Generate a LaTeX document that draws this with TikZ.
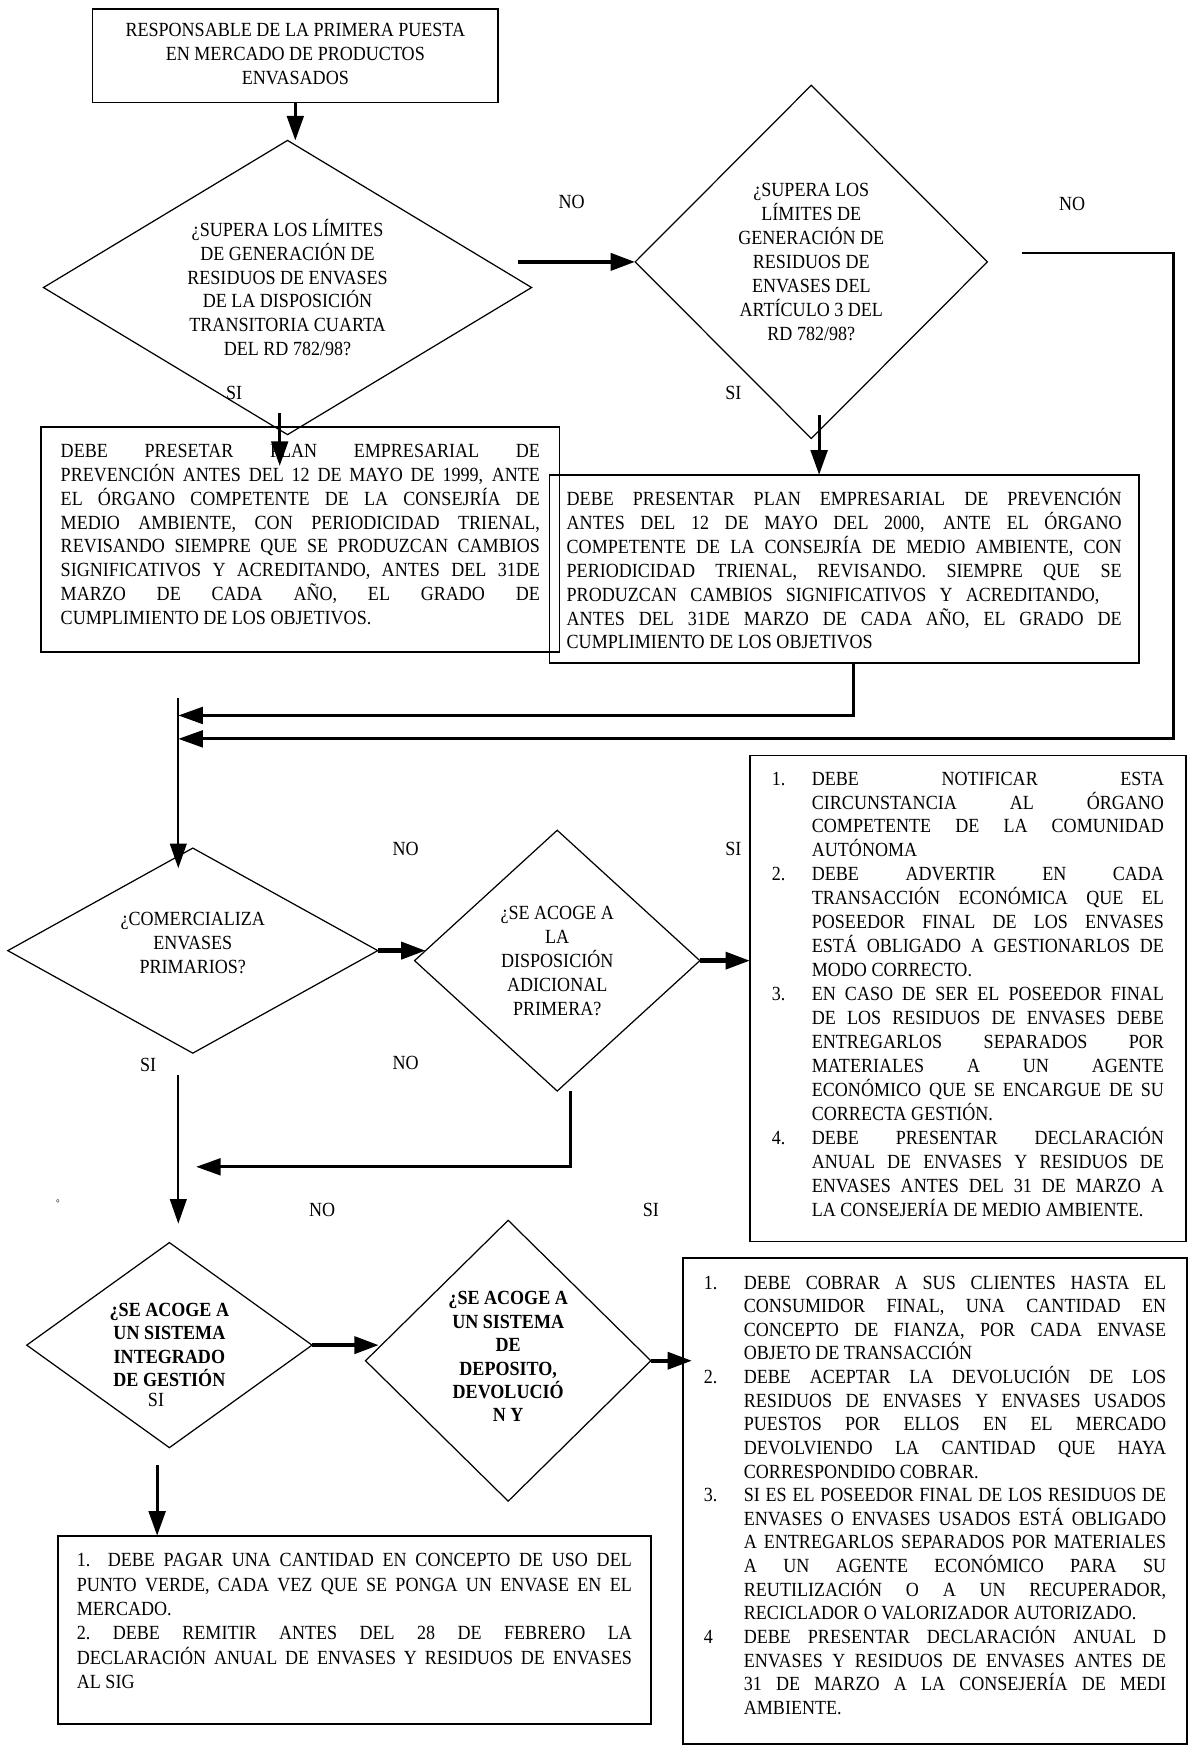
\documentclass[tikz,border=0pt]{standalone}
\usepackage{fontspec}
\setmainfont{Liberation Serif}[FakeStretch=0.9]
\usetikzlibrary{
  shapes.geometric, % diamond nodes
  arrows.meta       % filled arrow heads
}
% lines of the text boxes
\newcommand{\lj}[2][\linewidth]{\makebox[#1][s]{\spaceskip=0pt\relax #2}}
\newcommand{\lnum}[2]{\makebox[36pt][l]{#1}\makebox[\dimexpr\linewidth-36pt\relax][s]{\spaceskip=0pt\relax #2}}
\newcommand{\lsig}[1]{\hspace*{36pt}\makebox[\dimexpr\linewidth-36pt\relax][s]{\spaceskip=0pt\relax #1}}
\newcommand{\lult}[1]{\hspace*{36pt}#1}
\newcommand{\hueco}[1]{\rule[-#1]{0pt}{#1}}
\tikzset{
  every node/.style = {
    font=\fontsize{18}{21.5}\selectfont,
    inner sep=0pt,
    outer sep=0pt
  },
  decision/.style = {diamond, draw, line width=1.1pt, align=center},
  caja/.style = {rectangle, draw, line width=1.6pt, align=justify},
  rotulo/.style = {draw=none},
  gruesa/.style = {line width=4pt},
  media/.style = {line width=2.5pt},
  fina/.style = {line width=1.5pt},
  ->,        % arrows for all
  >={Triangle[length=22pt,width=15pt]}
}

\begin{document}
\begin{tikzpicture}[x=1pt, y=-1pt]
  \useasboundingbox (0,0) rectangle (1070,1573);

  %% nodes
  \node[caja, align=center] (RESP) at (265,50) [minimum width=364pt, minimum height=84pt]
    {RESPONSABLE DE LA PRIMERA PUESTA\\EN MERCADO DE PRODUCTOS\\ENVASADOS\hueco{3pt}};

  \node[decision, aspect=1.66] (D1) at (258,258) [minimum width=438pt, minimum height=264pt]
    {¿SUPERA LOS LÍMITES\\DE GENERACIÓN DE\\RESIDUOS DE ENVASES\\DE LA DISPOSICIÓN\\TRANSITORIA CUARTA\\DEL RD 782/98?};

  \node[decision, aspect=1] (D2) at (728,235) [minimum width=316pt, minimum height=317pt]
    {¿SUPERA LOS\\LÍMITES DE\\GENERACIÓN DE\\RESIDUOS DE\\ENVASES DEL\\ARTÍCULO 3 DEL\\RD 782/98?};

  \node[caja, text width=430pt] (PLAN1) at (269.5,484) [minimum width=465pt, minimum height=202pt]
    {\lj{DEBE PRESETAR PLAN EMPRESARIAL DE}\\
     \lj{PREVENCIÓN ANTES DEL 12 DE MAYO DE 1999, ANTE}\\
     \lj{EL ÓRGANO COMPETENTE DE LA CONSEJRÍA DE}\\
     \lj{MEDIO AMBIENTE, CON PERIODICIDAD TRIENAL,}\\
     \lj{REVISANDO SIEMPRE QUE SE PRODUZCAN CAMBIOS}\\
     \lj{SIGNIFICATIVOS Y ACREDITANDO, ANTES DEL 31DE}\\
     \lj{MARZO DE CADA AÑO, EL GRADO DE}\\
     CUMPLIMIENTO DE LOS OBJETIVOS.\hueco{9pt}};

  \node[caja, text width=498pt, font=\fontsize{18}{21.4}\selectfont] (PLAN2) at (757.5,510.5) [minimum width=529pt, minimum height=169pt]
    {\lj{DEBE PRESENTAR PLAN EMPRESARIAL DE PREVENCIÓN}\\
     \lj{ANTES DEL 12 DE MAYO DEL 2000, ANTE EL ÓRGANO}\\
     \lj{COMPETENTE DE LA CONSEJRÍA DE MEDIO AMBIENTE, CON}\\
     \lj{PERIODICIDAD TRIENAL, REVISANDO. SIEMPRE QUE SE}\\
     \lj[478pt]{PRODUZCAN CAMBIOS SIGNIFICATIVOS Y ACREDITANDO,}\\
     \lj{ANTES DEL 31DE MARZO DE CADA AÑO, EL GRADO DE}\\
     CUMPLIMIENTO DE LOS OBJETIVOS};

  \node[decision, aspect=1.8] (COM) at (173,853) [minimum width=332pt, minimum height=184pt]
    {¿COMERCIALIZA\\ENVASES\\PRIMARIOS?\hueco{14pt}};

  \node[decision, aspect=1.1] (DAP) at (500,862) [minimum width=256pt, minimum height=234pt]
    {¿SE ACOGE A\\LA\\DISPOSICIÓN\\ADICIONAL\\PRIMERA?};

  \node[caja, text width=352pt, font=\fontsize{18}{21.5}\selectfont] (NOTIF) at (868.5,896) [minimum width=391pt, minimum height=436pt]
    {\lnum{1.}{DEBE NOTIFICAR ESTA}\\
     \lsig{CIRCUNSTANCIA AL ÓRGANO}\\
     \lsig{COMPETENTE DE LA COMUNIDAD}\\
     \lult{AUTÓNOMA}\\
     \lnum{2.}{DEBE ADVERTIR EN CADA}\\
     \lsig{TRANSACCIÓN ECONÓMICA QUE EL}\\
     \lsig{POSEEDOR FINAL DE LOS ENVASES}\\
     \lsig{ESTÁ OBLIGADO A GESTIONARLOS DE}\\
     \lult{MODO CORRECTO.}\\
     \lnum{3.}{EN CASO DE SER EL POSEEDOR FINAL}\\
     \lsig{DE LOS RESIDUOS DE ENVASES DEBE}\\
     \lsig{ENTREGARLOS SEPARADOS POR}\\
     \lsig{MATERIALES A UN AGENTE}\\
     \lsig{ECONÓMICO QUE SE ENCARGUE DE SU}\\
     \lult{CORRECTA GESTIÓN.}\\
     \lnum{4.}{DEBE PRESENTAR DECLARACIÓN}\\
     \lsig{ANUAL DE ENVASES Y RESIDUOS DE}\\
     \lsig{ENVASES ANTES DEL 31 DE MARZO A}\\
     \lult{LA CONSEJERÍA DE MEDIO AMBIENTE.\hueco{8pt}}};

  \node[decision, aspect=1.4, font=\fontsize{18}{21}\selectfont\bfseries] (SIG) at (152,1207) [minimum width=256pt, minimum height=184pt]
    {¿SE ACOGE A\\UN SISTEMA\\INTEGRADO\\DE GESTIÓN};

  \node[decision, aspect=1, font=\fontsize{18}{21}\selectfont\bfseries] (SDDR) at (456,1221) [minimum width=256pt, minimum height=252pt]
    {¿SE ACOGE A\\UN SISTEMA\\DE\\DEPOSITO,\\DEVOLUCIÓ\\N Y\hueco{7pt}};

  \node[caja, text width=415pt, font=\fontsize{18}{21.2}\selectfont] (FIANZA) at (839,1347) [minimum width=452pt, minimum height=436pt]
    {\lnum{1.}{DEBE COBRAR A SUS CLIENTES HASTA EL}\\
     \lsig{CONSUMIDOR FINAL, UNA CANTIDAD EN}\\
     \lsig{CONCEPTO DE FIANZA, POR CADA ENVASE}\\
     \lult{OBJETO DE TRANSACCIÓN}\\
     \lnum{2.}{DEBE ACEPTAR LA DEVOLUCIÓN DE LOS}\\
     \lsig{RESIDUOS DE ENVASES Y ENVASES USADOS}\\
     \lsig{PUESTOS POR ELLOS EN EL MERCADO}\\
     \lsig{DEVOLVIENDO LA CANTIDAD QUE HAYA}\\
     \lult{CORRESPONDIDO COBRAR.}\\
     \lnum{3.}{SI ES EL POSEEDOR FINAL DE LOS RESIDUOS DE}\\
     \lsig{ENVASES O ENVASES USADOS ESTÁ OBLIGADO}\\
     \lsig{A ENTREGARLOS SEPARADOS POR MATERIALES}\\
     \lsig{A UN AGENTE ECONÓMICO PARA SU}\\
     \lsig{REUTILIZACIÓN O A UN RECUPERADOR,}\\
     \lult{RECICLADOR O VALORIZADOR AUTORIZADO.}\\
     \lnum{4}{DEBE PRESENTAR DECLARACIÓN ANUAL D}\\
     \lsig{ENVASES Y RESIDUOS DE ENVASES ANTES DE}\\
     \lsig{31 DE MARZO A LA CONSEJERÍA DE MEDI}\\
     \lult{AMBIENTE.\hueco{11pt}}};

  \node[caja, text width=498pt, font=\fontsize{18}{21.8}\selectfont] (PAGO) at (318,1462.5) [minimum width=532pt, minimum height=169pt]
    {\lj{1.\ \ DEBE PAGAR UNA CANTIDAD EN CONCEPTO DE USO DEL}\\
     \lj{PUNTO VERDE, CADA VEZ QUE SE PONGA UN ENVASE EN EL}\\
     MERCADO.\\
     \lj{2.\ DEBE REMITIR ANTES DEL 28 DE FEBRERO LA}\\
     \lj{DECLARACIÓN ANUAL DE ENVASES Y RESIDUOS DE ENVASES}\\
     AL SIG\hueco{16pt}};

  %% labels
  \node[rotulo] (NO1) at (513,181) {NO};
  \node[rotulo] (NO2) at (962,183) {NO};
  \node[rotulo] (SI1) at (210,353) {SI};
  \node[rotulo] (SI2) at (658,353) {SI};
  \node[rotulo] (NO3) at (364,762) {NO};
  \node[rotulo] (SI3) at (658,762) {SI};
  \node[rotulo] (SI4) at (133,956) {SI};
  \node[rotulo] (NO4) at (364,954) {NO};
  \node[rotulo] (NO5) at (289,1086) {NO};
  \node[rotulo] (SI5) at (584,1086) {SI};
  \node[rotulo] (SI6) at (140,1256) {SI};
  \node[rotulo, font=\fontsize{9}{10}\selectfont] (MARCA) at (52,1080) {°};

  %% joints
  \coordinate (S1) at (251,371);
  \coordinate (S2) at (735,372);
  \coordinate (ESQ) at (1053,227);
  \coordinate (M1) at (160,642);
  \coordinate (M2) at (160,663);
  \coordinate (ARRIBA) at (160,626);
  \coordinate (M3) at (176,1047);
  \coordinate (S3) at (160,965);
  \coordinate (S5) at (141,1315);

  %% arrows
  \draw[media] (RESP.south) -- (RESP.south |- D1.north);
  \draw[gruesa] ([xshift=-12pt]D1.east |- D2.west) -- (D2.west);
  \draw[media] ([xshift=31pt,yshift=8pt]D2.east) -- (ESQ) |- (M2);

  \draw[media, shorten >=-35pt] (S1) -- (S1 |- PLAN1.north);
  \draw[media] (S2) -- (S2 |- PLAN2.north);
  \draw[media] ([xshift=8pt]PLAN2.south) |- (M1);

  \draw[fina, shorten >=-18pt] (ARRIBA) -- (ARRIBA |- COM.north);
  \draw[gruesa, shorten >=-10pt] (COM.east) -- (COM.east -| DAP.west);
  \draw[gruesa] (DAP.east) -- (DAP.east -| NOTIF.west);
  \draw[media] ([xshift=12pt]DAP.south) |- (M3);

  \draw[fina, shorten >=17pt] (S3) -- (S3 |- SIG.north);
  \draw[gruesa, shorten >=-12pt] (SIG.east) -- (SIG.east -| SDDR.west);
  \draw[gruesa, shorten >=-8pt] (SDDR.east) -- (SDDR.east -| FIANZA.west);
  \draw[media] (S5) -- (S5 |- PAGO.north);

\end{tikzpicture}
\end{document}
